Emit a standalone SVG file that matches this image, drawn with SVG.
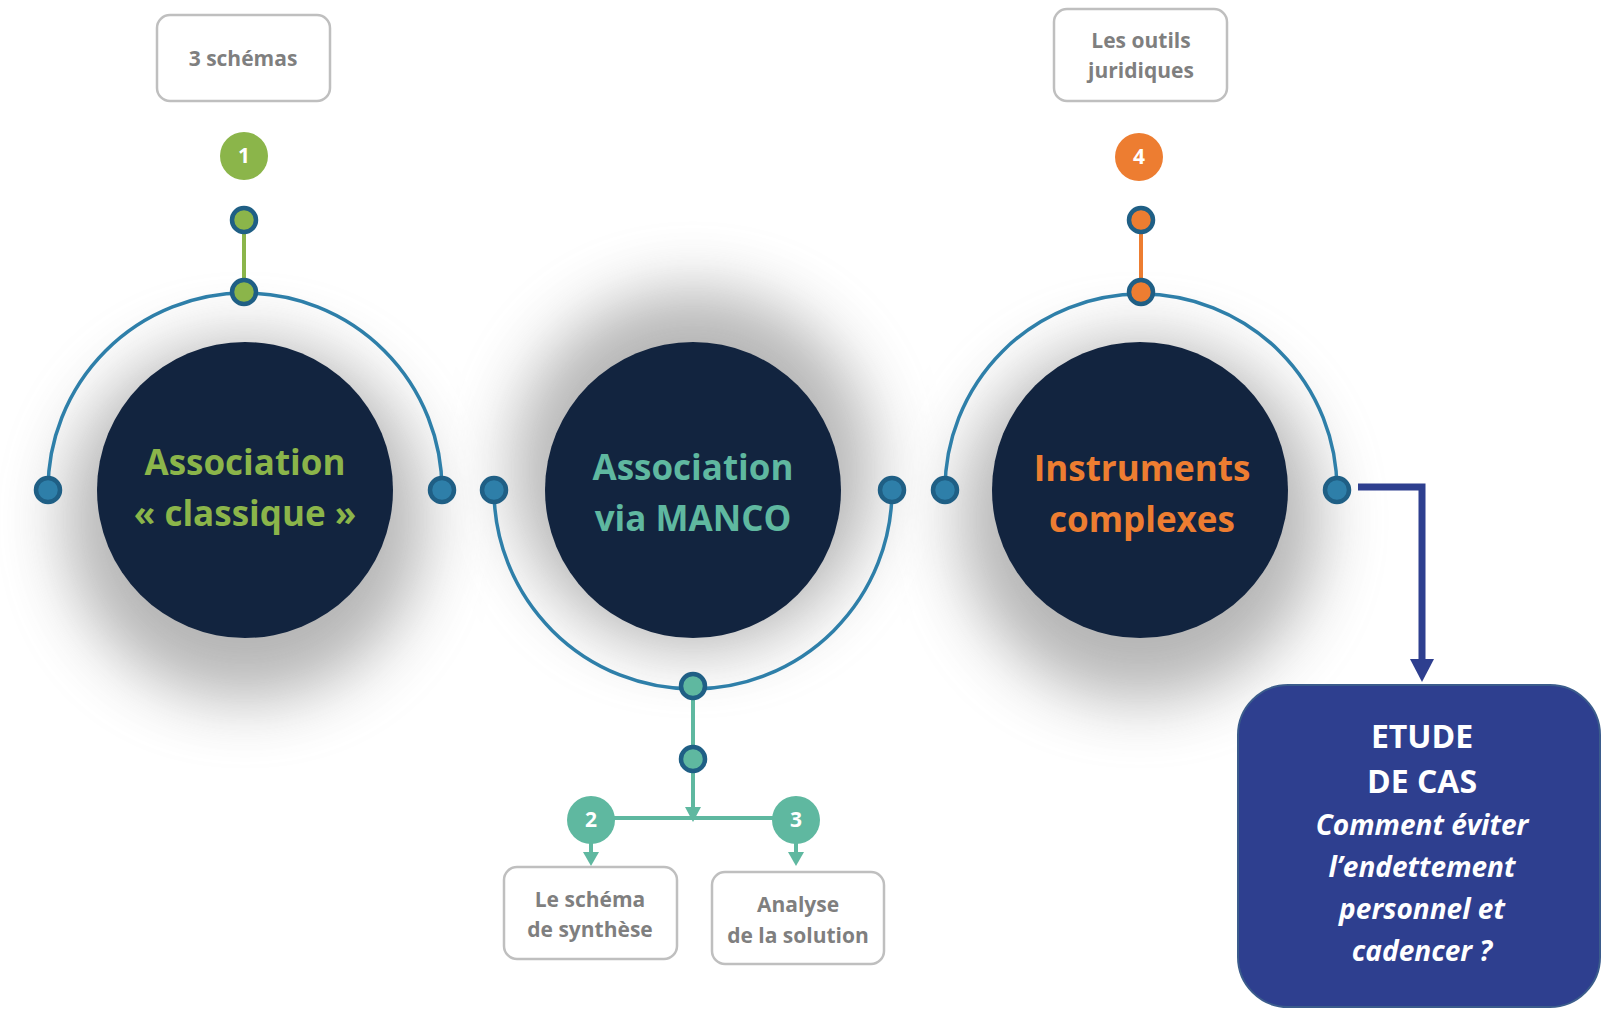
<svg xmlns="http://www.w3.org/2000/svg" width="1602" height="1010" viewBox="0 0 1602 1010">
<defs>
<style>
.big{fill:#12243f}
.t{font-family:"Open Sans","Liberation Sans",sans-serif;font-weight:700;text-anchor:middle}
.ct{font-size:35px}
.lbl{font-size:21px;fill:#7f7f7f}
.box{fill:#fff;stroke:#bfbfbf;stroke-width:2.5}
.arc{fill:none;stroke:#2e7fa9;stroke-width:3.5}
.dot{stroke:#1f5f85;stroke-width:4.5}
.bd{fill:#2e7fa9}
.badge{font-size:21px;fill:#fff}
.case{fill:#fff;font-size:32px}
.casei{fill:#fff;font-size:28px;font-style:italic}
</style>
<filter id="sh" x="-60%" y="-60%" width="220%" height="220%">
<feGaussianBlur stdDeviation="32"/>
</filter>
</defs>
<rect width="1602" height="1010" fill="#fff"/>

<g id="shadows" opacity="0.55">
<circle cx="245" cy="520" r="180" fill="#7a7a7a" filter="url(#sh)"/>
<circle cx="693" cy="470" r="180" fill="#7a7a7a" filter="url(#sh)"/>
<circle cx="1140" cy="520" r="180" fill="#7a7a7a" filter="url(#sh)"/>
</g>

<g id="connectors">
<path class="arc" d="M48,490 A197,197 0 0 1 442,490"/>
<path class="arc" d="M494,490 A198,198 0 0 0 892,490"/>
<path class="arc" d="M945,490 A196,196 0 0 1 1337,490"/>
<line x1="244" y1="220" x2="244" y2="292" stroke="#8bb54a" stroke-width="4"/>
<line x1="1141" y1="220" x2="1141" y2="292" stroke="#ed7d31" stroke-width="4"/>
<line x1="693" y1="686" x2="693" y2="759" stroke="#5fb8a0" stroke-width="4"/>
<line x1="693" y1="759" x2="693" y2="808" stroke="#5fb8a0" stroke-width="4"/>
<path d="M685,807 L701,807 L693,822 z" fill="#5fb8a0"/>
<line x1="591" y1="818" x2="796" y2="818" stroke="#5fb8a0" stroke-width="4"/>
<line x1="591" y1="840" x2="591" y2="853" stroke="#5fb8a0" stroke-width="4"/>
<path d="M583,852 L599,852 L591,866 z" fill="#5fb8a0"/>
<line x1="796" y1="840" x2="796" y2="853" stroke="#5fb8a0" stroke-width="4"/>
<path d="M788,852 L804,852 L796,866 z" fill="#5fb8a0"/>
<polyline points="1358,487 1422,487 1422,661" fill="none" stroke="#2e3f8f" stroke-width="7"/>
<path d="M1410,659 L1434,659 L1422,682 z" fill="#2e3f8f"/>
</g>

<g id="node-classique">
<circle class="big" cx="245" cy="490" r="148"/>
<text class="t ct" x="245" y="475" fill="#8bb54a">Association</text>
<text class="t ct" x="245" y="526" fill="#8bb54a">« classique »</text>
<circle class="dot bd" cx="48" cy="490" r="12"/>
<circle class="dot bd" cx="442" cy="490" r="12"/>
<circle class="dot" cx="244" cy="292" r="12" fill="#8bb54a"/>
<circle class="dot" cx="244" cy="220" r="12" fill="#8bb54a"/>
</g>

<g id="badge-1">
<circle cx="244" cy="156" r="24" fill="#8bb54a"/>
<text class="t badge" x="244" y="163">1</text>
</g>

<g id="label-3schemas">
<rect class="box" x="157" y="15" width="173" height="86" rx="13"/>
<text class="t lbl" x="243" y="66">3 schémas</text>
</g>

<g id="node-manco">
<circle class="big" cx="693" cy="490" r="148"/>
<text class="t ct" x="693" y="480" fill="#5fb8a0">Association</text>
<text class="t ct" x="693" y="531" fill="#5fb8a0">via MANCO</text>
<circle class="dot bd" cx="494" cy="490" r="12"/>
<circle class="dot bd" cx="892" cy="490" r="12"/>
<circle class="dot" cx="693" cy="686" r="12" fill="#5fb8a0"/>
<circle class="dot" cx="693" cy="759" r="12" fill="#5fb8a0"/>
</g>

<g id="badge-2">
<circle cx="591" cy="820" r="24" fill="#5fb8a0"/>
<text class="t badge" x="591" y="827">2</text>
</g>
<g id="badge-3">
<circle cx="796" cy="820" r="24" fill="#5fb8a0"/>
<text class="t badge" x="796" y="827">3</text>
</g>

<g id="label-synthese">
<rect class="box" x="504" y="867" width="173" height="92" rx="13"/>
<text class="t lbl" x="590" y="907">Le schéma</text>
<text class="t lbl" x="590" y="937">de synthèse</text>
</g>

<g id="label-analyse">
<rect class="box" x="712" y="872" width="172" height="92" rx="13"/>
<text class="t lbl" x="798" y="912">Analyse</text>
<text class="t lbl" x="798" y="943">de la solution</text>
</g>

<g id="node-instruments">
<circle class="big" cx="1140" cy="490" r="148"/>
<text class="t ct" x="1142" y="481" fill="#ed7d31">Instruments</text>
<text class="t ct" x="1142" y="532" fill="#ed7d31">complexes</text>
<circle class="dot bd" cx="945" cy="490" r="12"/>
<circle class="dot bd" cx="1337" cy="490" r="12"/>
<circle class="dot" cx="1141" cy="292" r="12" fill="#ed7d31"/>
<circle class="dot" cx="1141" cy="220" r="12" fill="#ed7d31"/>
</g>

<g id="badge-4">
<circle cx="1139" cy="157" r="24" fill="#ed7d31"/>
<text class="t badge" x="1139" y="164">4</text>
</g>

<g id="label-outils">
<rect class="box" x="1054" y="9" width="173" height="92" rx="13"/>
<text class="t lbl" x="1141" y="48">Les outils</text>
<text class="t lbl" x="1141" y="78">juridiques</text>
</g>

<g id="node-etude">
<rect x="1238" y="685" width="362" height="322" rx="50" fill="#2e3f8f" stroke="#3b5c8c" stroke-width="2"/>
<text class="t case" x="1422" y="748">ETUDE</text>
<text class="t case" x="1422" y="793">DE CAS</text>
<text class="t casei" x="1422" y="835">Comment éviter</text>
<text class="t casei" x="1422" y="877">l’endettement</text>
<text class="t casei" x="1422" y="919">personnel et</text>
<text class="t casei" x="1422" y="961">cadencer ?</text>
</g>
</svg>
